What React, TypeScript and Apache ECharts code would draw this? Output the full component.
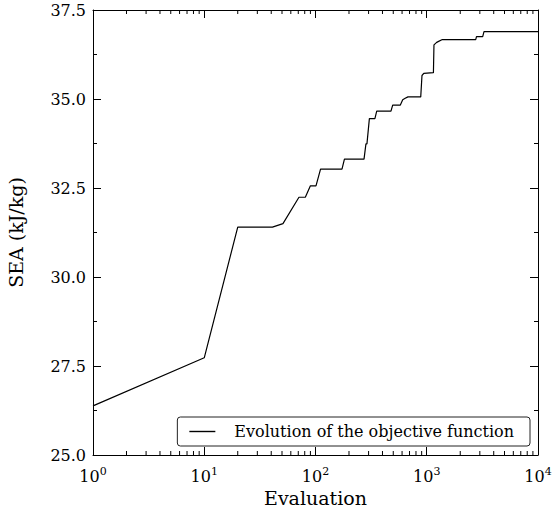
import React, { useEffect, useRef } from "react";
import * as echarts from "echarts";

// Best objective value found so far, against the evaluation count
const evaluations = [
  1, 10, 20, 41, 51, 71, 81, 90, 101, 111, 173, 182, 273, 284, 290, 305, 342,
  355, 477, 494, 579, 608, 640, 678, 883, 906, 940, 1148, 1161, 1228, 1380,
  2755, 2800, 3184, 3270, 10000,
];
const seaValues = [
  26.38, 27.73, 31.4, 31.4, 31.5, 32.24, 32.24, 32.56, 32.56, 33.03, 33.03,
  33.31, 33.31, 33.74, 33.74, 34.45, 34.45, 34.66, 34.66, 34.83, 34.83, 34.98,
  35.02, 35.06, 35.06, 35.66, 35.72, 35.74, 36.52, 36.59, 36.67, 36.67, 36.75,
  36.75, 36.89, 36.89,
];

const seriesName = "Evolution of the objective function";
const yTicks = { min: 25, max: 37.5, interval: 2.5 };
const xRange = { min: 1, max: 10000 };

const FONT = "DejaVu Serif";

// log-axis minor tick positions (2..9 within each decade)
const minorX: number[] = [];
for (let d = 1; d < xRange.max; d *= 10) {
  for (let k = 2; k <= 9; k++) minorX.push(k * d);
}

const decadeExponent = (v: number) => Math.round(Math.log10(v));

export default function App() {
  const ref = useRef<HTMLDivElement>(null);

  useEffect(() => {
    if (!ref.current) return;
    const chart = echarts.init(ref.current, null, { renderer: "svg" });

    const tickCommon = {
      axisLine: { show: true, lineStyle: { color: "#000", width: 1 } },
      splitLine: { show: false },
    };
    const majorTick = {
      show: true,
      inside: true,
      length: 8,
      lineStyle: { color: "#000" },
    };
    const minorTick = {
      show: true,
      splitNumber: 2,
      length: 4,
      lineStyle: { color: "#000" },
    };

    const option: any = {
      animation: false,
      backgroundColor: "#fff",
      grid: {
        left: 93,
        top: 10,
        width: 445,
        height: 445,
        containLabel: false,
        outerBoundsMode: "none",
      },
      legend: {
        data: [seriesName],
        right: 23,
        top: 417,
        orient: "horizontal",
        borderColor: "#222",
        borderWidth: 1,
        borderRadius: 3,
        backgroundColor: "#fff",
        padding: [6, 16, 6, 12],
        icon: "rect",
        itemWidth: 26,
        itemHeight: 1.4,
        itemStyle: { color: "#000" },
        textStyle: {
          fontFamily: FONT,
          fontSize: 16,
          lineHeight: 17,
          color: "#000",
          padding: [0, 0, 0, 14],
        },
      },
      xAxis: [
        {
          type: "log",
          logBase: 10,
          ...xRange,
          position: "bottom",
          name: "Evaluation",
          nameLocation: "middle",
          nameGap: 31,
          nameTextStyle: { fontFamily: FONT, fontSize: 19, color: "#000" },
          ...tickCommon,
          axisTick: majorTick,
          axisLabel: {
            show: true,
            margin: 11,
            formatter: (v: number) => `{b|10}{s|${decadeExponent(v)}}`,
            rich: {
              b: { fontFamily: FONT, fontSize: 16, color: "#000" },
              s: {
                fontFamily: FONT,
                fontSize: 11,
                color: "#000",
                verticalAlign: "bottom",
                padding: [0, 0, 9, 0],
              },
            },
          },
        },
        {
          type: "log",
          logBase: 10,
          ...xRange,
          position: "top",
          ...tickCommon,
          axisTick: majorTick,
          axisLabel: { show: false },
        },
      ],
      yAxis: [
        {
          type: "value",
          ...yTicks,
          position: "left",
          name: "SEA (kJ/kg)",
          nameLocation: "middle",
          nameGap: 68,
          nameTextStyle: { fontFamily: FONT, fontSize: 19, color: "#000" },
          ...tickCommon,
          axisTick: majorTick,
          minorTick,
          axisLabel: {
            show: true,
            margin: 7,
            fontFamily: FONT,
            fontSize: 16,
            color: "#000",
            formatter: (v: number) => v.toFixed(1),
          },
        },
        {
          type: "value",
          ...yTicks,
          position: "right",
          ...tickCommon,
          axisTick: majorTick,
          minorTick,
          axisLabel: { show: false },
        },
      ],
      series: [
        {
          name: seriesName,
          type: "line",
          xAxisIndex: 0,
          yAxisIndex: 0,
          data: evaluations.map((e, i) => [e, seaValues[i]]),
          symbol: "none",
          showSymbol: false,
          lineStyle: { color: "#000", width: 1.2 },
          itemStyle: { color: "#000" },
          z: 3,
        },
        {
          // minor ticks for the log x axes (bottom and top)
          name: "minor-x",
          type: "custom",
          xAxisIndex: 0,
          yAxisIndex: 0,
          silent: true,
          data: minorX.map((v) => [v, yTicks.min]),
          renderItem: (params: any, api: any) => {
            const cs = params.coordSys;
            const x = api.coord([api.value(0), yTicks.min])[0];
            const bottom = cs.y + cs.height;
            const top = cs.y;
            return {
              type: "group",
              children: [
                {
                  type: "line",
                  shape: { x1: x, y1: bottom, x2: x, y2: bottom - 4 },
                  style: { stroke: "#000", lineWidth: 1 },
                },
                {
                  type: "line",
                  shape: { x1: x, y1: top, x2: x, y2: top + 4 },
                  style: { stroke: "#000", lineWidth: 1 },
                },
              ],
            };
          },
          z: 4,
        },
      ],
    };

    chart.setOption(option);
    return () => chart.dispose();
  }, []);

  return (
    <div
      ref={ref}
      style={{ position: "fixed", left: 0, top: 0, width: 553, height: 516 }}
    />
  );
}
